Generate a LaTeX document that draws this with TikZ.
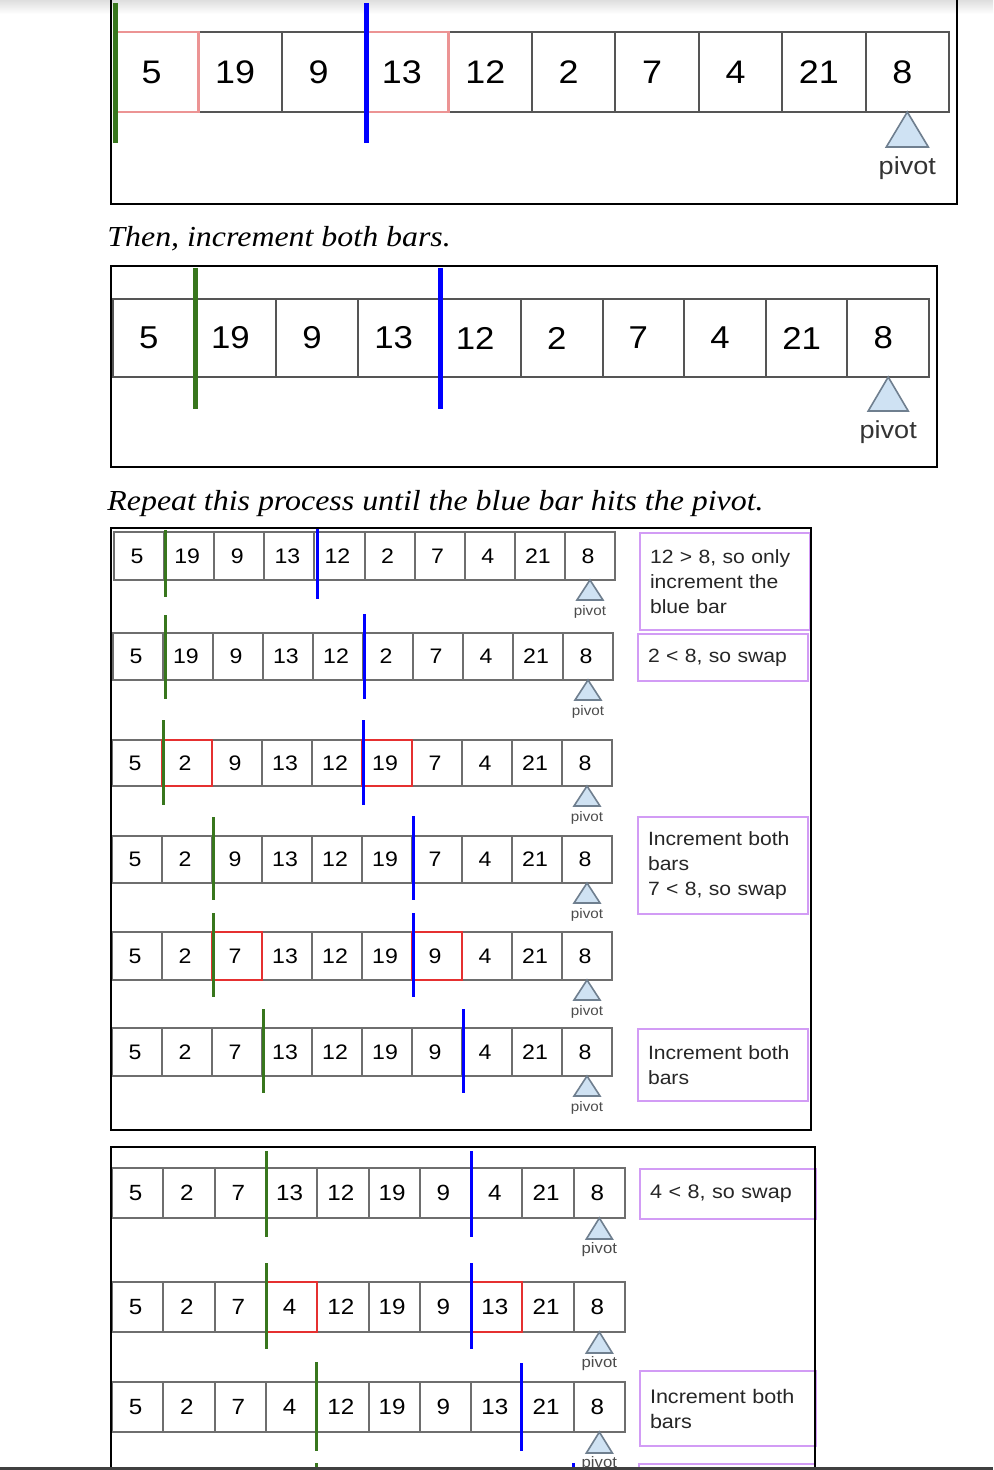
\documentclass[tikz,border=0pt]{standalone}
\usepackage{fontspec}
\newfontfamily\cellfont{Liberation Sans}[FakeStretch=1.1]
\newfontfamily\capfont{Liberation Serif}[FakeStretch=1.1]
\usetikzlibrary{calc}

\definecolor{bargreen}{HTML}{38761D}
\definecolor{barblue}{HTML}{0000FF}
\definecolor{cellgray}{HTML}{555555}
\definecolor{pivotblue}{HTML}{CFE2F3}
\definecolor{pivotedge}{HTML}{6F7F8F}
\definecolor{notepurple}{HTML}{D29CF5}
\definecolor{swapred}{HTML}{E53030}
\definecolor{swappink}{HTML}{EC9494}

% one row of the array: name, left x, top y, cell width, cell height, style, values
\newcommand{\arrayrow}[7]{%
  \foreach \v [count=\i] in {#7}
    \node[#6, minimum width=#4*0.5pt, minimum height=#5*0.5pt] (#1\i) at ({#2+(\i-0.5)*#4},{#3+#5/2}) {\v};
}
% pivot mark under a cell: cell, half width, height, label gap, label style
\newcommand{\pivotmark}[5]{%
  \draw[pivottri] (#1.south) -- ++(-#2,#3) -- ++(2*#2,0) -- cycle;
  \node[#5] (#1p) at ($(#1.south)+(0,#3+#4)$) {pivot};
}

\begin{document}
\begin{tikzpicture}[x=0.5pt, y=-0.5pt]
    \tikzstyle{cellbig}=[draw=cellgray, line width=1pt, inner sep=0pt, outer sep=0pt, execute at begin node={\kern-5pt}, font=\cellfont\fontsize{16.3}{20}\selectfont]
    \tikzstyle{cellsmall}=[draw=cellgray!85, line width=1pt, inner sep=0pt, outer sep=0pt, execute at begin node={\kern-2pt}, font=\cellfont\fontsize{10.5}{12}\selectfont]
    \tikzstyle{pivottri}=[fill=pivotblue, draw=pivotedge, line width=0.8pt]
    \tikzstyle{pivotbig}=[inner sep=0pt, text=black!80, font=\cellfont\fontsize{12.3}{14}\selectfont]
    \tikzstyle{pivotsmall}=[inner sep=0pt, text=black!70, font=\cellfont\fontsize{6.9}{8}\selectfont]
    \tikzstyle{pivotmid}=[inner sep=0pt, text=black!70, font=\cellfont\fontsize{7.6}{9}\selectfont]
    \tikzstyle{gbar}=[draw=bargreen, line width=2.5pt]
    \tikzstyle{bbar}=[draw=barblue, line width=2.5pt]
    \tikzstyle{gthin}=[draw=bargreen, line width=1.5pt]
    \tikzstyle{bthin}=[draw=barblue, line width=1.5pt]
    \tikzstyle{swapbig}=[draw=swappink, line width=1.3pt]
    \tikzstyle{swapsmall}=[draw=swapred, line width=1pt]
    \tikzstyle{frame}=[draw=black, line width=1.2pt]
    \tikzstyle{notebox}=[draw=notepurple, line width=1pt, align=left, anchor=north west, inner xsep=5pt, inner ysep=0pt, text=black!85, font=\cellfont\fontsize{9.6}{12.5}\selectfont]
    \tikzstyle{caption}=[anchor=base west, inner sep=0pt, font=\capfont\itshape\fontsize{14.5}{17}\selectfont]

    \useasboundingbox (0,0) rectangle (993,1470);
    \clip (0,0) rectangle (993,1470);
    \fill[white] (0,0) rectangle (993,1470);
    \shade[top color=black!13, bottom color=white] (0,0) rectangle (993,14);

    % first picture
    \arrayrow{ta}{115}{32}{83.4}{80}{cellbig}{5,19,9,13,12,2,7,4,21,8}
    \draw[swapbig] (ta1.north west) rectangle (ta1.south east);
    \draw[swapbig] (ta4.north west) rectangle (ta4.south east);
    \draw[gbar] (115,3) -- (115,143);
    \draw[bbar] (366,3) -- (366,143);
    \pivotmark{ta10}{21}{35}{21}{pivotbig}
    \draw[frame] (111,-5) rectangle (957,204);

    \node[caption] (cap1) at (107,247) {Then, increment both bars.};

    % second picture
    \arrayrow{tb}{113}{299}{81.6}{78}{cellbig, font=\cellfont\fontsize{15.8}{20}\selectfont}{5,19,9,13,12,2,7,4,21,8}
    \draw[gbar] (195,268) -- (195,409);
    \draw[bbar] (440,268) -- (440,409);
    \pivotmark{tb10}{20}{34}{21}{pivotbig}
    \draw[frame] (111,266) rectangle (937,467);

    \node[caption] (cap2) at (107,510) {Repeat this process until the blue bar hits the pivot.};

    % third picture
    \arrayrow{pa}{114}{532}{50.1}{48}{cellsmall}{5,19,9,13,12,2,7,4,21,8}
    \draw[gthin] (165,530) -- (165,597);
    \draw[bthin] (317,528) -- (317,599);
    \pivotmark{pa10}{13}{20}{12}{pivotsmall}
    \node[notebox, minimum width=85pt, minimum height=48.5pt, text width=75pt] (na) at (639,532) {12 > 8, so only\\increment the\\blue bar};

    \arrayrow{pb}{113}{633}{50}{47}{cellsmall}{5,19,9,13,12,2,7,4,21,8}
    \draw[gthin] (165,615) -- (165,699);
    \draw[bthin] (364.5,614) -- (364.5,699);
    \pivotmark{pb10}{13}{20}{12}{pivotsmall}
    \node[notebox, minimum width=85pt, minimum height=23.5pt, text width=75pt] (nb) at (637,633) {2 < 8, so swap};

    \arrayrow{pc}{112}{740}{50}{46}{cellsmall}{5,2,9,13,12,19,7,4,21,8}
    \draw[swapsmall] (pc2.north west) rectangle (pc2.south east);
    \draw[swapsmall] (pc6.north west) rectangle (pc6.south east);
    \draw[gthin] (163,720) -- (163,805);
    \draw[bthin] (363,720) -- (363,805);
    \pivotmark{pc10}{13}{20}{12}{pivotsmall}

    \arrayrow{pd}{112}{836}{50}{47}{cellsmall}{5,2,9,13,12,19,7,4,21,8}
    \draw[gthin] (213,817) -- (213,900);
    \draw[bthin] (413,816) -- (413,900);
    \pivotmark{pd10}{13}{20}{12}{pivotsmall}
    \node[notebox, minimum width=85pt, minimum height=48.5pt, text width=75pt] (nd) at (637,816) {Increment both\\bars\\7 < 8, so swap};

    \arrayrow{pe}{112}{932}{50}{48}{cellsmall}{5,2,7,13,12,19,9,4,21,8}
    \draw[swapsmall] (pe3.north west) rectangle (pe3.south east);
    \draw[swapsmall] (pe7.north west) rectangle (pe7.south east);
    \draw[gthin] (213,913) -- (213,997);
    \draw[bthin] (413,913) -- (413,997);
    \pivotmark{pe10}{13}{20}{12}{pivotsmall}

    \arrayrow{pf}{112}{1028}{50}{48}{cellsmall}{5,2,7,13,12,19,9,4,21,8}
    \draw[gthin] (263,1009) -- (263,1093);
    \draw[bthin] (463,1009) -- (463,1093);
    \pivotmark{pf10}{13}{20}{12}{pivotsmall}
    \node[notebox, minimum width=85pt, minimum height=36pt, text width=75pt] (nf) at (637,1028) {Increment both\\bars};

    \draw[frame] (111,528) rectangle (811,1130);

    % fourth picture
    \arrayrow{qa}{112}{1168}{51.3}{50}{cellsmall, font=\cellfont\fontsize{11}{13}\selectfont}{5,2,7,13,12,19,9,4,21,8}
    \draw[gthin] (266,1151) -- (266,1237);
    \draw[bthin] (471,1151) -- (471,1237);
    \pivotmark{qa10}{13}{21}{11}{pivotmid}
    \node[notebox, font=\cellfont\fontsize{9.8}{12.5}\selectfont, minimum width=88pt, minimum height=25pt, text width=78pt] (qna) at (639,1168) {4 < 8, so swap};

    \arrayrow{qb}{112}{1282}{51.3}{50}{cellsmall, font=\cellfont\fontsize{11}{13}\selectfont}{5,2,7,4,12,19,9,13,21,8}
    \draw[swapsmall] (qb4.north west) rectangle (qb4.south east);
    \draw[swapsmall] (qb8.north west) rectangle (qb8.south east);
    \draw[gthin] (266,1263) -- (266,1349);
    \draw[bthin] (471,1263) -- (471,1349);
    \pivotmark{qb10}{13}{21}{11}{pivotmid}

    \arrayrow{qc}{112}{1382}{51.3}{50}{cellsmall, font=\cellfont\fontsize{11}{13}\selectfont}{5,2,7,4,12,19,9,13,21,8}
    \draw[gthin] (316,1362) -- (316,1451);
    \draw[bthin] (521,1363) -- (521,1451);
    \pivotmark{qc10}{13}{21}{11}{pivotmid}
    \node[notebox, font=\cellfont\fontsize{9.8}{12.5}\selectfont, minimum width=88pt, minimum height=37.5pt, text width=78pt] (qnc) at (639,1370) {Increment both\\bars};

    % next row, cut off at the bottom
    \draw[gthin] (316,1463) -- (316,1480);
    \draw[bthin] (573,1463) -- (573,1480);
    \draw[draw=notepurple, line width=1pt] (639,1464) rectangle (815,1520);

    \draw[frame] (111,1147) rectangle (815,1500);
    \fill[black!75] (0,1467) rectangle (993,1470);
\end{tikzpicture}
\end{document}
